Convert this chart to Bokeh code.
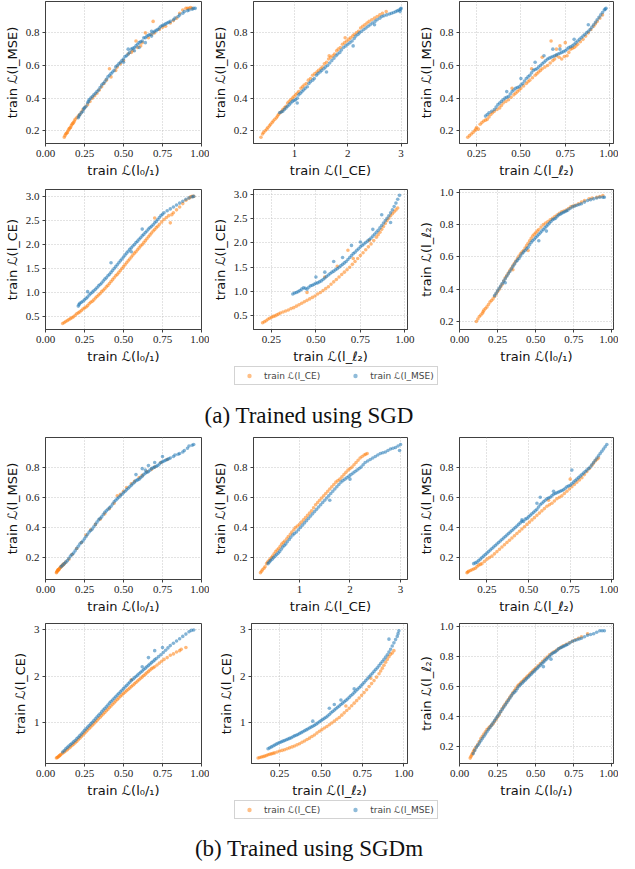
from bokeh.plotting import figure
from bokeh.layouts import column, row
from bokeh.models import Range1d, FixedTicker, PrintfTickFormatter, Legend, LegendItem, Div
from bokeh.embed import file_html
from bokeh.resources import INLINE

ORANGE = "#ff7f0e"
BLUE = "#1f77b4"

LBL_01 = "train ℒ(l₀/₁)"
LBL_CE = "train ℒ(l_CE)"
LBL_MSE = "train ℒ(l_MSE)"
LBL_L2 = "train ℒ(l_ℓ₂)"

ticks_01 = [0.0, 0.25, 0.5, 0.75, 1.0]
ticks_l2 = [0.25, 0.5, 0.75, 1.0]
ticks_ce_x = [1, 2, 3]
ticks_mse = [0.2, 0.4, 0.6, 0.8]
ticks_ce_y_sgd = [0.5, 1.0, 1.5, 2.0, 2.5, 3.0]
ticks_ce_y_sgdm = [1, 2, 3]
ticks_l2_y = [0.2, 0.4, 0.6, 0.8, 1.0]

# ---------------- (a) SGD ----------------
sgd_01_mse_ce = [(0.12,0.16),(0.13,0.18),(0.14,0.19),(0.15,0.21),(0.16,0.22),(0.17,0.24),(0.18,0.25),(0.19,0.27),(0.20,0.28),(0.22,0.30),(0.24,0.33),(0.27,0.36),(0.30,0.40),(0.33,0.43),(0.36,0.47),(0.39,0.51),(0.41,0.58),(0.42,0.53),(0.45,0.57),(0.48,0.61),(0.50,0.63),(0.53,0.67),(0.56,0.69),(0.58,0.75),(0.59,0.71),(0.62,0.74),(0.64,0.80),(0.66,0.77),(0.69,0.87),(0.70,0.80),(0.73,0.82),(0.77,0.84),(0.80,0.86),(0.84,0.89),(0.88,0.94),(0.90,0.95),(0.92,0.95),(0.94,0.95),
                 (0.125,0.17),(0.135,0.185),(0.145,0.20),(0.155,0.215),(0.165,0.23),(0.175,0.245),(0.185,0.26),(0.21,0.29),(0.23,0.315),(0.255,0.345),(0.285,0.38),(0.315,0.415),(0.345,0.45),(0.375,0.49),(0.46,0.59),(0.55,0.68),(0.61,0.72),(0.68,0.79),(0.75,0.835),(0.82,0.875),(0.86,0.92),(0.91,0.95),(0.93,0.955)]
sgd_01_mse_mse = [(0.21,0.28),(0.22,0.30),(0.24,0.32),(0.25,0.34),(0.27,0.37),(0.28,0.39),(0.30,0.41),(0.32,0.43),(0.34,0.45),(0.36,0.48),(0.38,0.50),(0.40,0.53),(0.42,0.55),(0.44,0.57),(0.45,0.59),(0.47,0.61),(0.49,0.63),(0.50,0.64),(0.52,0.66),(0.54,0.68),(0.55,0.70),(0.57,0.71),(0.58,0.72),(0.60,0.74),(0.62,0.75),(0.63,0.77),(0.65,0.78),(0.67,0.79),(0.68,0.81),(0.70,0.81),(0.72,0.82),(0.74,0.84),(0.76,0.85),(0.78,0.86),(0.80,0.87),(0.83,0.89),(0.86,0.91),(0.89,0.93),(0.92,0.94),(0.95,0.95),(0.96,0.95),(0.60,0.71),(0.64,0.74),(0.53,0.70),
                  (0.215,0.29),(0.23,0.31),(0.245,0.335),(0.26,0.35),(0.275,0.38),(0.29,0.40),(0.31,0.42),(0.33,0.44),(0.35,0.465),(0.37,0.49),(0.39,0.515),(0.41,0.54),(0.43,0.56),(0.46,0.60),(0.48,0.62),(0.51,0.655),(0.53,0.67),(0.56,0.705),(0.59,0.73),(0.61,0.745),(0.64,0.77),(0.66,0.785),(0.69,0.80),(0.71,0.815),(0.73,0.83),(0.75,0.845),(0.77,0.855),(0.79,0.865),(0.82,0.88),(0.85,0.90),(0.88,0.92),(0.91,0.935),(0.94,0.945),(0.50,0.62),(0.57,0.69),(0.68,0.78)]

sgd_ce_mse_ce = [(0.37,0.16),(0.42,0.19),(0.48,0.21),(0.53,0.23),(0.58,0.25),(0.63,0.27),(0.68,0.29),(0.73,0.31),(0.78,0.33),(0.84,0.35),(0.90,0.38),(0.96,0.40),(1.02,0.42),(1.08,0.44),(1.15,0.47),(1.22,0.49),(1.30,0.52),(1.38,0.55),(1.45,0.57),(1.52,0.59),(1.60,0.62),(1.68,0.65),(1.75,0.67),(1.82,0.70),(1.90,0.73),(1.98,0.75),(2.05,0.77),(2.12,0.79),(2.20,0.81),(2.28,0.84),(2.36,0.86),(2.45,0.88),(2.55,0.90),(2.65,0.92),(2.72,0.93),(1.65,0.66),(1.95,0.77),
                 (0.40,0.18),(0.45,0.20),(0.50,0.22),(0.55,0.24),(0.60,0.26),(0.66,0.28),(0.70,0.30),(0.76,0.32),(0.81,0.34),(0.87,0.37),(0.93,0.39),(0.99,0.41),(1.05,0.43),(1.12,0.46),(1.18,0.48),(1.26,0.51),(1.34,0.54),(1.42,0.56),(1.49,0.58),(1.56,0.61),(1.64,0.64),(1.72,0.66),(1.79,0.69),(1.86,0.71),(1.94,0.74),(2.02,0.76),(2.09,0.78),(2.16,0.80),(2.24,0.83),(2.32,0.85),(2.40,0.87),(2.50,0.89),(2.60,0.91)]
sgd_ce_mse_mse = [(0.72,0.31),(0.78,0.32),(0.84,0.34),(0.90,0.36),(0.96,0.38),(1.02,0.39),(1.08,0.42),(1.14,0.44),(1.20,0.46),(1.27,0.49),(1.34,0.51),(1.41,0.54),(1.48,0.56),(1.55,0.58),(1.62,0.60),(1.70,0.63),(1.78,0.66),(1.85,0.68),(1.92,0.71),(2.00,0.73),(2.08,0.75),(2.15,0.78),(2.22,0.80),(2.30,0.82),(2.38,0.84),(2.46,0.86),(2.55,0.88),(2.64,0.90),(2.73,0.91),(2.82,0.92),(2.90,0.93),(2.96,0.94),(3.00,0.95),(2.98,0.93),(1.05,0.37),(1.60,0.56),(2.10,0.72),(2.50,0.85),
                  (0.75,0.315),(0.81,0.33),(0.87,0.35),(0.93,0.37),(0.99,0.385),(1.05,0.40),(1.11,0.43),(1.17,0.45),(1.24,0.47),(1.30,0.50),(1.37,0.52),(1.44,0.55),(1.51,0.57),(1.58,0.59),(1.66,0.615),(1.74,0.645),(1.81,0.67),(1.88,0.695),(1.96,0.72),(2.04,0.74),(2.12,0.765),(2.19,0.79),(2.26,0.81),(2.34,0.83),(2.42,0.85),(2.51,0.87),(2.60,0.89),(2.68,0.905),(2.78,0.915),(2.86,0.925),(2.93,0.935),(2.99,0.945)]

sgd_l2_mse_ce = [(0.20,0.16),(0.22,0.18),(0.24,0.20),(0.25,0.22),(0.26,0.21),(0.27,0.24),(0.29,0.26),(0.31,0.27),(0.33,0.30),(0.35,0.32),(0.38,0.34),(0.40,0.37),(0.43,0.39),(0.46,0.42),(0.48,0.44),(0.50,0.46),(0.53,0.49),(0.55,0.51),(0.58,0.54),(0.60,0.56),(0.62,0.58),(0.65,0.60),(0.68,0.63),(0.70,0.66),(0.72,0.72),(0.73,0.64),(0.76,0.66),(0.78,0.70),(0.80,0.71),(0.82,0.73),(0.85,0.76),(0.88,0.80),(0.91,0.84),(0.93,0.87),(0.96,0.91),(0.62,0.65),(0.67,0.75),(0.45,0.46),
                 (0.21,0.17),(0.23,0.19),(0.245,0.21),(0.28,0.25),(0.30,0.265),(0.32,0.285),(0.34,0.31),(0.365,0.33),(0.39,0.355),(0.415,0.38),(0.445,0.405),(0.47,0.43),(0.49,0.45),(0.515,0.475),(0.54,0.50),(0.565,0.525),(0.59,0.55),(0.61,0.57),(0.635,0.59),(0.665,0.615),(0.69,0.64),(0.715,0.65),(0.745,0.655),(0.77,0.68),(0.79,0.705),(0.81,0.72),(0.835,0.745),(0.865,0.78),(0.895,0.82),(0.92,0.855),(0.945,0.89),(0.56,0.58),(0.70,0.70),(0.75,0.74)]
sgd_l2_mse_mse = [(0.30,0.29),(0.32,0.31),(0.35,0.33),(0.37,0.36),(0.39,0.38),(0.41,0.40),(0.43,0.41),(0.45,0.44),(0.47,0.46),(0.49,0.47),(0.51,0.49),(0.53,0.52),(0.55,0.54),(0.57,0.57),(0.59,0.58),(0.61,0.60),(0.63,0.62),(0.65,0.64),(0.67,0.65),(0.69,0.66),(0.71,0.67),(0.73,0.68),(0.75,0.69),(0.77,0.71),(0.79,0.72),(0.81,0.74),(0.83,0.76),(0.85,0.78),(0.87,0.80),(0.89,0.82),(0.91,0.85),(0.93,0.88),(0.95,0.91),(0.97,0.94),(0.98,0.95),(0.58,0.62),(0.68,0.70),(0.80,0.76),(0.88,0.85),(0.42,0.44),
                  (0.31,0.30),(0.335,0.32),(0.36,0.345),(0.38,0.37),(0.40,0.39),(0.42,0.405),(0.44,0.425),(0.46,0.45),(0.48,0.465),(0.50,0.48),(0.52,0.505),(0.54,0.53),(0.56,0.555),(0.58,0.575),(0.60,0.59),(0.62,0.61),(0.64,0.63),(0.66,0.645),(0.68,0.655),(0.70,0.665),(0.72,0.675),(0.74,0.685),(0.76,0.70),(0.78,0.715),(0.80,0.73),(0.82,0.75),(0.84,0.77),(0.86,0.79),(0.88,0.81),(0.90,0.835),(0.92,0.865),(0.94,0.895),(0.96,0.925),(0.975,0.945),(0.50,0.52),(0.63,0.66),(0.72,0.70)]

sgd_01_ce_ce = [(0.11,0.36),(0.13,0.40),(0.15,0.44),(0.17,0.48),(0.19,0.53),(0.21,0.58),(0.23,0.63),(0.25,0.68),(0.27,0.73),(0.29,0.80),(0.31,0.85),(0.33,0.92),(0.35,0.98),(0.37,1.05),(0.39,1.12),(0.41,1.19),(0.43,1.27),(0.45,1.35),(0.47,1.42),(0.49,1.50),(0.51,1.58),(0.53,1.66),(0.55,1.74),(0.57,1.82),(0.59,1.89),(0.61,1.97),(0.63,2.04),(0.65,2.12),(0.67,2.20),(0.69,2.28),(0.71,2.35),(0.73,2.42),(0.76,2.52),(0.79,2.60),(0.82,2.66),(0.86,2.78),(0.90,2.92),(0.93,2.99),(0.95,3.00),(0.80,2.45),(0.70,2.55),
                (0.12,0.38),(0.14,0.42),(0.16,0.46),(0.18,0.50),(0.20,0.56),(0.22,0.60),(0.24,0.66),(0.26,0.70),(0.28,0.77),(0.30,0.82),(0.32,0.89),(0.34,0.95),(0.36,1.02),(0.38,1.08),(0.40,1.15),(0.42,1.23),(0.44,1.31),(0.46,1.38),(0.48,1.46),(0.50,1.54),(0.52,1.62),(0.54,1.70),(0.56,1.78),(0.58,1.85),(0.60,1.93),(0.62,2.00),(0.64,2.08),(0.66,2.16),(0.68,2.24),(0.70,2.31),(0.72,2.38),(0.745,2.47),(0.775,2.56),(0.81,2.62),(0.84,2.72),(0.88,2.85),(0.92,2.96),(0.94,3.00)]
sgd_01_ce_mse = [(0.21,0.72),(0.22,0.78),(0.24,0.82),(0.26,0.88),(0.28,0.95),(0.30,1.01),(0.32,1.07),(0.34,1.14),(0.36,1.20),(0.38,1.28),(0.40,1.35),(0.42,1.42),(0.44,1.50),(0.46,1.58),(0.48,1.66),(0.50,1.74),(0.52,1.82),(0.54,1.90),(0.56,1.97),(0.58,2.04),(0.60,2.11),(0.62,2.18),(0.64,2.25),(0.66,2.32),(0.68,2.38),(0.70,2.45),(0.72,2.52),(0.74,2.60),(0.76,2.66),(0.80,2.74),(0.84,2.82),(0.88,2.90),(0.92,2.97),(0.95,3.00),(0.27,1.02),(0.42,1.62),(0.62,2.32),(0.55,1.85),
                 (0.215,0.75),(0.23,0.80),(0.25,0.85),(0.27,0.91),(0.29,0.98),(0.31,1.04),(0.33,1.10),(0.35,1.17),(0.37,1.24),(0.39,1.31),(0.41,1.38),(0.43,1.46),(0.45,1.54),(0.47,1.62),(0.49,1.70),(0.51,1.78),(0.53,1.86),(0.55,1.93),(0.57,2.00),(0.59,2.07),(0.61,2.14),(0.63,2.21),(0.65,2.28),(0.67,2.35),(0.69,2.41),(0.71,2.48),(0.73,2.56),(0.75,2.63),(0.78,2.70),(0.82,2.78),(0.86,2.86),(0.90,2.94),(0.94,2.99)]

sgd_l2_ce_ce = [(0.20,0.36),(0.22,0.40),(0.24,0.45),(0.26,0.49),(0.28,0.52),(0.30,0.56),(0.33,0.60),(0.36,0.65),(0.39,0.70),(0.42,0.76),(0.45,0.82),(0.48,0.88),(0.51,0.95),(0.54,1.02),(0.57,1.10),(0.60,1.20),(0.63,1.30),(0.66,1.40),(0.69,1.50),(0.72,1.62),(0.75,1.74),(0.78,1.86),(0.81,1.98),(0.84,2.12),(0.86,2.22),(0.88,2.34),(0.90,2.46),(0.92,2.56),(0.94,2.64),(0.96,2.72),(0.55,1.30),(0.62,1.52),(0.68,1.85),(0.71,1.68),(0.80,2.05),(0.45,0.98),
                (0.21,0.38),(0.23,0.43),(0.25,0.47),(0.27,0.50),(0.29,0.54),(0.315,0.58),(0.345,0.62),(0.375,0.67),(0.405,0.73),(0.435,0.79),(0.465,0.85),(0.495,0.91),(0.525,0.98),(0.555,1.06),(0.585,1.15),(0.615,1.25),(0.645,1.35),(0.675,1.45),(0.705,1.56),(0.735,1.68),(0.765,1.80),(0.795,1.92),(0.825,2.05),(0.85,2.17),(0.87,2.28),(0.89,2.40),(0.91,2.51),(0.93,2.60),(0.95,2.68)]
sgd_l2_ce_mse = [(0.37,0.95),(0.39,0.98),(0.41,1.02),(0.43,1.08),(0.45,1.05),(0.47,1.12),(0.49,1.15),(0.51,1.18),(0.53,1.22),(0.55,1.28),(0.57,1.34),(0.59,1.40),(0.61,1.45),(0.63,1.50),(0.65,1.56),(0.67,1.62),(0.69,1.70),(0.71,1.78),(0.73,1.85),(0.75,1.92),(0.77,1.98),(0.79,2.04),(0.81,2.10),(0.83,2.18),(0.85,2.26),(0.87,2.36),(0.89,2.46),(0.91,2.56),(0.93,2.68),(0.95,2.82),(0.97,2.98),(0.60,1.62),(0.70,1.95),(0.87,2.58),(0.92,2.42),(0.50,1.30),(0.82,2.28),
                 (0.38,0.97),(0.40,1.00),(0.42,1.05),(0.44,1.07),(0.46,1.09),(0.48,1.13),(0.50,1.17),(0.52,1.20),(0.54,1.25),(0.56,1.31),(0.58,1.37),(0.60,1.42),(0.62,1.47),(0.64,1.53),(0.66,1.59),(0.68,1.66),(0.70,1.74),(0.72,1.81),(0.74,1.88),(0.76,1.95),(0.78,2.01),(0.80,2.07),(0.82,2.14),(0.84,2.22),(0.86,2.31),(0.88,2.41),(0.90,2.51),(0.92,2.62),(0.94,2.75),(0.96,2.90),(0.65,1.70),(0.75,2.02),(0.55,1.40)]

sgd_01_l2_ce = [(0.11,0.20),(0.13,0.23),(0.15,0.25),(0.16,0.27),(0.18,0.29),(0.20,0.32),(0.22,0.34),(0.24,0.37),(0.26,0.40),(0.28,0.43),(0.30,0.47),(0.32,0.50),(0.34,0.53),(0.36,0.56),(0.38,0.59),(0.40,0.62),(0.42,0.64),(0.44,0.67),(0.46,0.70),(0.48,0.73),(0.50,0.75),(0.52,0.77),(0.55,0.80),(0.58,0.82),(0.61,0.84),(0.64,0.86),(0.67,0.88),(0.70,0.89),(0.73,0.91),(0.76,0.92),(0.80,0.94),(0.85,0.96),(0.90,0.97),(0.94,0.98),(0.35,0.52),(0.45,0.64),
                (0.12,0.215),(0.14,0.24),(0.155,0.26),(0.17,0.28),(0.19,0.305),(0.21,0.33),(0.23,0.355),(0.25,0.385),(0.27,0.415),(0.29,0.45),(0.31,0.485),(0.33,0.515),(0.35,0.545),(0.37,0.575),(0.39,0.605),(0.41,0.63),(0.43,0.655),(0.45,0.685),(0.47,0.715),(0.49,0.74),(0.51,0.76),(0.535,0.785),(0.565,0.81),(0.595,0.83),(0.625,0.85),(0.655,0.87),(0.685,0.885),(0.715,0.90),(0.745,0.915),(0.78,0.93),(0.82,0.95),(0.87,0.965),(0.92,0.975)]
sgd_01_l2_mse = [(0.23,0.36),(0.25,0.39),(0.27,0.42),(0.29,0.45),(0.31,0.48),(0.33,0.51),(0.35,0.54),(0.37,0.57),(0.39,0.59),(0.41,0.62),(0.43,0.64),(0.45,0.66),(0.47,0.69),(0.49,0.71),(0.51,0.73),(0.53,0.75),(0.55,0.77),(0.57,0.79),(0.59,0.81),(0.61,0.83),(0.63,0.84),(0.65,0.86),(0.67,0.87),(0.69,0.88),(0.71,0.89),(0.74,0.91),(0.77,0.92),(0.80,0.93),(0.84,0.95),(0.88,0.96),(0.92,0.97),(0.95,0.97),(0.52,0.70),(0.57,0.76),(0.30,0.44),
                 (0.24,0.375),(0.26,0.405),(0.28,0.435),(0.30,0.465),(0.32,0.495),(0.34,0.525),(0.36,0.555),(0.38,0.58),(0.40,0.605),(0.42,0.63),(0.44,0.65),(0.46,0.675),(0.48,0.70),(0.50,0.72),(0.52,0.74),(0.54,0.76),(0.56,0.78),(0.58,0.80),(0.60,0.82),(0.62,0.835),(0.64,0.85),(0.66,0.865),(0.68,0.875),(0.70,0.885),(0.725,0.90),(0.755,0.915),(0.785,0.925),(0.82,0.94),(0.86,0.955),(0.90,0.965),(0.94,0.97)]

# ---------------- (b) SGDm ----------------
sgdm_01_mse_ce = [(0.07,0.10),(0.075,0.11),(0.08,0.12),(0.085,0.12),(0.09,0.13),(0.10,0.14),(0.11,0.15),(0.12,0.16),(0.15,0.19),(0.20,0.26),(0.26,0.35),(0.32,0.42),(0.38,0.49),(0.44,0.56),(0.46,0.61),(0.50,0.64),(0.55,0.69),(0.60,0.73),(0.65,0.77),(0.70,0.80),(0.74,0.83),(0.78,0.85),
                  (0.072,0.105),(0.078,0.115),(0.082,0.118),(0.088,0.125),(0.095,0.135),(0.105,0.145),(0.115,0.155),(0.13,0.17),(0.17,0.22),(0.23,0.30),(0.29,0.385),(0.35,0.455),(0.41,0.525),(0.48,0.62),(0.52,0.665),(0.57,0.705),(0.62,0.745),(0.68,0.785)]
sgdm_01_mse_mse = [(0.10,0.14),(0.12,0.16),(0.14,0.18),(0.16,0.21),(0.18,0.23),(0.20,0.26),(0.22,0.29),(0.24,0.31),(0.26,0.34),(0.28,0.37),(0.30,0.39),(0.32,0.42),(0.34,0.45),(0.36,0.47),(0.38,0.50),(0.40,0.52),(0.42,0.54),(0.44,0.57),(0.46,0.59),(0.48,0.61),(0.50,0.63),(0.52,0.65),(0.54,0.67),(0.56,0.69),(0.58,0.71),(0.60,0.72),(0.62,0.74),(0.64,0.76),(0.66,0.77),(0.68,0.79),(0.70,0.80),(0.72,0.81),(0.74,0.83),(0.76,0.84),(0.78,0.85),(0.80,0.86),(0.83,0.88),(0.86,0.89),(0.89,0.91),(0.92,0.94),(0.95,0.95),(0.62,0.79),(0.66,0.81),(0.75,0.87),(0.58,0.75),
                   (0.11,0.15),(0.13,0.17),(0.15,0.195),(0.17,0.22),(0.19,0.245),(0.21,0.275),(0.23,0.30),(0.25,0.325),(0.27,0.355),(0.29,0.38),(0.31,0.405),(0.33,0.435),(0.35,0.46),(0.37,0.485),(0.39,0.51),(0.41,0.53),(0.43,0.555),(0.45,0.58),(0.47,0.60),(0.49,0.62),(0.51,0.64),(0.53,0.66),(0.55,0.68),(0.57,0.70),(0.59,0.715),(0.61,0.73),(0.63,0.75),(0.65,0.765),(0.67,0.78),(0.69,0.795),(0.71,0.805),(0.73,0.82),(0.75,0.835),(0.77,0.845),(0.79,0.855),(0.82,0.87),(0.85,0.885),(0.88,0.90),(0.91,0.925),(0.94,0.945),(0.64,0.78),(0.70,0.83)]

sgdm_ce_mse_ce = [(0.23,0.10),(0.27,0.12),(0.32,0.14),(0.37,0.17),(0.42,0.19),(0.47,0.21),(0.53,0.24),(0.59,0.26),(0.65,0.29),(0.71,0.31),(0.78,0.34),(0.85,0.37),(0.92,0.40),(1.00,0.42),(1.08,0.45),(1.16,0.48),(1.24,0.51),(1.32,0.55),(1.40,0.58),(1.48,0.61),(1.56,0.64),(1.64,0.67),(1.72,0.70),(1.80,0.72),(1.88,0.75),(1.96,0.78),(2.04,0.80),(2.12,0.83),(2.20,0.86),(2.28,0.88),(2.34,0.89),
                  (0.25,0.11),(0.30,0.13),(0.35,0.16),(0.40,0.18),(0.45,0.20),(0.50,0.225),(0.56,0.25),(0.62,0.275),(0.68,0.30),(0.75,0.325),(0.82,0.355),(0.89,0.385),(0.96,0.41),(1.04,0.435),(1.12,0.465),(1.20,0.495),(1.28,0.53),(1.36,0.565),(1.44,0.595),(1.52,0.625),(1.60,0.655),(1.68,0.685),(1.76,0.71),(1.84,0.735),(1.92,0.765),(2.00,0.79),(2.08,0.815),(2.16,0.845),(2.24,0.87),(2.31,0.885)]
sgdm_ce_mse_mse = [(0.38,0.16),(0.43,0.18),(0.49,0.20),(0.55,0.22),(0.61,0.24),(0.67,0.27),(0.73,0.29),(0.80,0.32),(0.87,0.35),(0.94,0.37),(1.02,0.40),(1.10,0.43),(1.18,0.46),(1.26,0.49),(1.34,0.52),(1.42,0.55),(1.50,0.58),(1.58,0.61),(1.66,0.64),(1.74,0.67),(1.82,0.70),(1.90,0.72),(1.98,0.74),(2.06,0.76),(2.14,0.78),(2.22,0.80),(2.30,0.83),(2.40,0.85),(2.50,0.87),(2.60,0.89),(2.70,0.90),(2.80,0.92),(2.90,0.93),(3.00,0.95),(2.98,0.91),(2.00,0.72),(1.60,0.58),
                   (0.40,0.17),(0.46,0.19),(0.52,0.21),(0.58,0.23),(0.64,0.255),(0.70,0.28),(0.76,0.305),(0.83,0.335),(0.90,0.36),(0.98,0.385),(1.06,0.415),(1.14,0.445),(1.22,0.475),(1.30,0.505),(1.38,0.535),(1.46,0.565),(1.54,0.595),(1.62,0.625),(1.70,0.655),(1.78,0.685),(1.86,0.71),(1.94,0.73),(2.02,0.75),(2.10,0.77),(2.18,0.79),(2.26,0.815),(2.35,0.84),(2.45,0.86),(2.55,0.88),(2.65,0.895),(2.75,0.91),(2.85,0.925),(2.95,0.94)]

sgdm_l2_mse_ce = [(0.13,0.10),(0.14,0.11),(0.16,0.12),(0.18,0.13),(0.20,0.15),(0.22,0.16),(0.25,0.19),(0.28,0.21),(0.31,0.24),(0.34,0.27),(0.37,0.30),(0.40,0.33),(0.43,0.36),(0.46,0.39),(0.49,0.42),(0.52,0.45),(0.55,0.48),(0.58,0.51),(0.61,0.54),(0.64,0.56),(0.67,0.59),(0.70,0.61),(0.73,0.64),(0.76,0.67),(0.79,0.70),(0.82,0.73),(0.85,0.77),(0.88,0.81),(0.90,0.84),(0.92,0.86),(0.62,0.58),(0.75,0.72),
                  (0.135,0.105),(0.15,0.115),(0.17,0.125),(0.19,0.14),(0.21,0.155),(0.235,0.175),(0.265,0.20),(0.295,0.225),(0.325,0.255),(0.355,0.285),(0.385,0.315),(0.415,0.345),(0.445,0.375),(0.475,0.405),(0.505,0.435),(0.535,0.465),(0.565,0.495),(0.595,0.525),(0.625,0.55),(0.655,0.575),(0.685,0.60),(0.715,0.625),(0.745,0.655),(0.775,0.685),(0.805,0.715),(0.835,0.75),(0.865,0.79),(0.89,0.825),(0.91,0.85)]
sgdm_l2_mse_mse = [(0.17,0.16),(0.19,0.17),(0.21,0.19),(0.23,0.21),(0.25,0.23),(0.27,0.25),(0.29,0.27),(0.31,0.29),(0.33,0.31),(0.35,0.33),(0.37,0.35),(0.39,0.37),(0.41,0.39),(0.43,0.41),(0.45,0.43),(0.47,0.44),(0.49,0.46),(0.51,0.48),(0.53,0.50),(0.55,0.52),(0.57,0.55),(0.59,0.57),(0.61,0.59),(0.63,0.60),(0.65,0.62),(0.67,0.63),(0.69,0.64),(0.71,0.65),(0.73,0.67),(0.75,0.68),(0.77,0.70),(0.79,0.72),(0.81,0.74),(0.83,0.76),(0.85,0.78),(0.87,0.80),(0.89,0.83),(0.91,0.86),(0.93,0.89),(0.95,0.92),(0.97,0.95),(0.76,0.78),(0.57,0.60),(0.46,0.45),
                   (0.18,0.165),(0.20,0.18),(0.22,0.20),(0.24,0.22),(0.26,0.24),(0.28,0.26),(0.30,0.28),(0.32,0.30),(0.34,0.32),(0.36,0.34),(0.38,0.36),(0.40,0.38),(0.42,0.40),(0.44,0.42),(0.46,0.44),(0.48,0.455),(0.50,0.47),(0.52,0.49),(0.54,0.51),(0.56,0.535),(0.58,0.56),(0.60,0.58),(0.62,0.595),(0.64,0.61),(0.66,0.625),(0.68,0.635),(0.70,0.645),(0.72,0.66),(0.74,0.675),(0.76,0.69),(0.78,0.71),(0.80,0.73),(0.82,0.75),(0.84,0.77),(0.86,0.79),(0.88,0.815),(0.90,0.845),(0.92,0.875),(0.94,0.905),(0.96,0.935),(0.55,0.56),(0.65,0.64)]

sgdm_01_ce_ce = [(0.07,0.22),(0.08,0.24),(0.09,0.27),(0.10,0.30),(0.12,0.35),(0.14,0.40),(0.16,0.46),(0.18,0.52),(0.20,0.58),(0.22,0.65),(0.24,0.72),(0.26,0.79),(0.28,0.86),(0.30,0.93),(0.32,1.00),(0.34,1.07),(0.36,1.14),(0.38,1.21),(0.40,1.28),(0.42,1.35),(0.44,1.42),(0.46,1.49),(0.48,1.56),(0.50,1.62),(0.52,1.68),(0.54,1.74),(0.56,1.80),(0.58,1.86),(0.60,1.92),(0.62,1.98),(0.64,2.04),(0.66,2.10),(0.68,2.16),(0.70,2.20),(0.73,2.28),(0.76,2.36),(0.80,2.45),(0.84,2.52),(0.87,2.58),(0.55,1.92),
                 (0.075,0.23),(0.085,0.255),(0.095,0.285),(0.11,0.325),(0.13,0.375),(0.15,0.43),(0.17,0.49),(0.19,0.55),(0.21,0.615),(0.23,0.685),(0.25,0.755),(0.27,0.825),(0.29,0.895),(0.31,0.965),(0.33,1.035),(0.35,1.105),(0.37,1.175),(0.39,1.245),(0.41,1.315),(0.43,1.385),(0.45,1.455),(0.47,1.525),(0.49,1.59),(0.51,1.65),(0.53,1.71),(0.55,1.77),(0.57,1.83),(0.59,1.89),(0.61,1.95),(0.63,2.01),(0.65,2.07),(0.67,2.13),(0.69,2.18),(0.715,2.24),(0.745,2.32),(0.78,2.40),(0.82,2.48),(0.86,2.55),(0.90,2.62)]
sgdm_01_ce_mse = [(0.11,0.35),(0.13,0.42),(0.15,0.48),(0.17,0.54),(0.19,0.60),(0.21,0.67),(0.23,0.74),(0.25,0.82),(0.27,0.89),(0.29,0.96),(0.31,1.03),(0.33,1.11),(0.35,1.18),(0.37,1.26),(0.39,1.33),(0.41,1.41),(0.43,1.48),(0.45,1.55),(0.47,1.62),(0.49,1.69),(0.51,1.76),(0.53,1.83),(0.55,1.90),(0.57,1.96),(0.59,2.02),(0.61,2.08),(0.63,2.14),(0.65,2.20),(0.67,2.26),(0.69,2.32),(0.71,2.38),(0.74,2.46),(0.77,2.56),(0.80,2.66),(0.84,2.76),(0.88,2.86),(0.92,2.96),(0.95,3.00),(0.70,2.55),(0.62,2.20),
                  (0.12,0.38),(0.14,0.45),(0.16,0.51),(0.18,0.57),(0.20,0.635),(0.22,0.705),(0.24,0.78),(0.26,0.855),(0.28,0.925),(0.30,0.995),(0.32,1.07),(0.34,1.145),(0.36,1.22),(0.38,1.295),(0.40,1.37),(0.42,1.445),(0.44,1.515),(0.46,1.585),(0.48,1.655),(0.50,1.725),(0.52,1.795),(0.54,1.865),(0.56,1.93),(0.58,1.99),(0.60,2.05),(0.62,2.11),(0.64,2.17),(0.66,2.23),(0.68,2.29),(0.70,2.35),(0.725,2.42),(0.755,2.51),(0.785,2.61),(0.82,2.71),(0.86,2.81),(0.90,2.91),(0.935,2.99),(0.66,2.40),(0.75,2.62)]

sgdm_l2_ce_ce = [(0.12,0.22),(0.14,0.24),(0.16,0.26),(0.18,0.29),(0.20,0.31),(0.22,0.33),(0.25,0.37),(0.28,0.40),(0.31,0.44),(0.34,0.48),(0.37,0.53),(0.40,0.59),(0.43,0.65),(0.46,0.72),(0.49,0.80),(0.52,0.87),(0.55,0.94),(0.58,1.02),(0.61,1.10),(0.64,1.20),(0.67,1.30),(0.70,1.41),(0.73,1.52),(0.76,1.64),(0.79,1.77),(0.82,1.90),(0.85,2.05),(0.87,2.17),(0.89,2.30),(0.91,2.42),(0.93,2.50),(0.65,1.35),(0.80,1.95),
                 (0.13,0.23),(0.15,0.25),(0.17,0.275),(0.19,0.30),(0.21,0.32),(0.235,0.35),(0.265,0.385),(0.295,0.42),(0.325,0.46),(0.355,0.505),(0.385,0.56),(0.415,0.62),(0.445,0.685),(0.475,0.76),(0.505,0.835),(0.535,0.905),(0.565,0.98),(0.595,1.06),(0.625,1.15),(0.655,1.25),(0.685,1.355),(0.715,1.465),(0.745,1.58),(0.775,1.70),(0.805,1.835),(0.835,1.975),(0.86,2.11),(0.88,2.235),(0.90,2.36),(0.92,2.47),(0.94,2.55)]
sgdm_l2_ce_mse = [(0.18,0.42),(0.20,0.46),(0.22,0.50),(0.24,0.54),(0.26,0.57),(0.28,0.60),(0.30,0.63),(0.32,0.66),(0.34,0.70),(0.36,0.73),(0.38,0.77),(0.40,0.81),(0.42,0.85),(0.44,0.89),(0.46,0.93),(0.48,0.98),(0.50,1.03),(0.52,1.08),(0.54,1.13),(0.56,1.20),(0.58,1.26),(0.60,1.32),(0.62,1.38),(0.64,1.44),(0.66,1.50),(0.68,1.57),(0.70,1.64),(0.72,1.71),(0.74,1.78),(0.76,1.86),(0.78,1.94),(0.80,2.02),(0.82,2.10),(0.84,2.18),(0.86,2.27),(0.88,2.36),(0.90,2.46),(0.92,2.58),(0.94,2.72),(0.96,2.86),(0.97,2.98),(0.55,1.30),(0.62,1.48),(0.70,1.72),(0.91,2.80),
                  (0.19,0.44),(0.21,0.48),(0.23,0.52),(0.25,0.555),(0.27,0.585),(0.29,0.615),(0.31,0.645),(0.33,0.68),(0.35,0.715),(0.37,0.75),(0.39,0.79),(0.41,0.83),(0.43,0.87),(0.45,0.91),(0.47,0.955),(0.49,1.005),(0.51,1.055),(0.53,1.105),(0.55,1.165),(0.57,1.23),(0.59,1.29),(0.61,1.35),(0.63,1.41),(0.65,1.47),(0.67,1.535),(0.69,1.605),(0.71,1.675),(0.73,1.745),(0.75,1.82),(0.77,1.90),(0.79,1.98),(0.81,2.06),(0.83,2.14),(0.85,2.225),(0.87,2.315),(0.89,2.41),(0.91,2.52),(0.93,2.65),(0.95,2.79),(0.965,2.92),(0.45,1.02),(0.58,1.38)]

sgdm_01_l2_ce = [(0.07,0.12),(0.08,0.14),(0.09,0.16),(0.10,0.18),(0.12,0.21),(0.14,0.25),(0.16,0.28),(0.18,0.31),(0.20,0.33),(0.22,0.35),(0.24,0.38),(0.26,0.41),(0.28,0.45),(0.30,0.48),(0.32,0.51),(0.34,0.54),(0.36,0.57),(0.38,0.60),(0.40,0.62),(0.42,0.64),(0.44,0.66),(0.46,0.68),(0.48,0.70),(0.50,0.72),(0.53,0.75),(0.56,0.78),(0.59,0.81),(0.62,0.83),(0.65,0.85),(0.68,0.87),(0.72,0.89),(0.76,0.91),(0.80,0.93),(0.84,0.95),
                 (0.075,0.13),(0.085,0.15),(0.095,0.17),(0.11,0.195),(0.13,0.23),(0.15,0.265),(0.17,0.295),(0.19,0.32),(0.21,0.34),(0.23,0.365),(0.25,0.395),(0.27,0.43),(0.29,0.465),(0.31,0.495),(0.33,0.525),(0.35,0.555),(0.37,0.585),(0.39,0.61),(0.41,0.63),(0.43,0.65),(0.45,0.67),(0.47,0.69),(0.49,0.71),(0.515,0.735),(0.545,0.765),(0.575,0.795),(0.605,0.82),(0.635,0.84),(0.665,0.86),(0.70,0.88),(0.74,0.90),(0.78,0.92)]
sgdm_01_l2_mse = [(0.09,0.15),(0.11,0.19),(0.13,0.22),(0.15,0.25),(0.17,0.28),(0.19,0.31),(0.21,0.34),(0.23,0.37),(0.25,0.40),(0.27,0.43),(0.29,0.46),(0.31,0.49),(0.33,0.52),(0.35,0.55),(0.37,0.57),(0.39,0.60),(0.41,0.62),(0.43,0.64),(0.45,0.66),(0.47,0.68),(0.49,0.70),(0.51,0.72),(0.53,0.74),(0.55,0.76),(0.57,0.78),(0.59,0.80),(0.61,0.82),(0.63,0.83),(0.65,0.85),(0.67,0.86),(0.69,0.87),(0.71,0.88),(0.74,0.90),(0.77,0.91),(0.80,0.92),(0.84,0.94),(0.88,0.95),(0.92,0.97),(0.95,0.97),(0.60,0.78),(0.55,0.73),
                  (0.10,0.17),(0.12,0.205),(0.14,0.235),(0.16,0.265),(0.18,0.295),(0.20,0.325),(0.22,0.355),(0.24,0.385),(0.26,0.415),(0.28,0.445),(0.30,0.475),(0.32,0.505),(0.34,0.535),(0.36,0.56),(0.38,0.585),(0.40,0.61),(0.42,0.63),(0.44,0.65),(0.46,0.67),(0.48,0.69),(0.50,0.71),(0.52,0.73),(0.54,0.75),(0.56,0.77),(0.58,0.79),(0.60,0.81),(0.62,0.825),(0.64,0.84),(0.66,0.855),(0.68,0.865),(0.70,0.875),(0.725,0.89),(0.755,0.905),(0.785,0.915),(0.82,0.93),(0.86,0.945),(0.90,0.96),(0.935,0.97)]

LEFTS = [45, 42, 42]
RIGHTS = [8, 8, 5]


def panel(col, top, bottom, xr, yr, xt, xf, yt, yf, xl, yl, ce, mse):
    w = LEFTS[col] + 156 + RIGHTS[col]
    h = top + 142 + bottom
    p = figure(width=w, height=h, x_range=Range1d(*xr), y_range=Range1d(*yr),
               min_border_left=LEFTS[col], min_border_right=RIGHTS[col],
               min_border_top=top, min_border_bottom=bottom,
               toolbar_location=None, output_backend="svg")
    p.outline_line_color = "#404040"
    p.outline_line_width = 1
    p.xaxis.ticker = FixedTicker(ticks=xt)
    p.yaxis.ticker = FixedTicker(ticks=yt)
    p.xgrid.ticker = FixedTicker(ticks=xt)
    p.ygrid.ticker = FixedTicker(ticks=yt)
    p.xaxis.formatter = PrintfTickFormatter(format=xf)
    p.yaxis.formatter = PrintfTickFormatter(format=yf)
    p.xaxis.axis_label = xl
    p.yaxis.axis_label = yl
    for ax in p.axis:
        ax.axis_line_color = "#404040"
        ax.major_tick_line_color = "#404040"
        ax.major_tick_out = 3
        ax.major_tick_in = 0
        ax.minor_tick_line_color = None
        ax.major_label_text_font = "Liberation Serif"
        ax.major_label_text_font_size = "11px"
        ax.major_label_text_color = "#222222"
        ax.major_label_standoff = 3
        ax.axis_label_text_font = "DejaVu Sans"
        ax.axis_label_text_font_size = "13px"
        ax.axis_label_text_font_style = "normal"
        ax.axis_label_text_color = "#111111"
        ax.axis_label_standoff = 3
    p.grid.grid_line_color = "#b8b8b8"
    p.grid.grid_line_dash = "1 2"
    p.grid.grid_line_width = 0.8
    p.scatter([q[0] for q in ce], [q[1] for q in ce], size=3.6,
              fill_color=ORANGE, fill_alpha=0.55, line_color=None)
    p.scatter([q[0] for q in mse], [q[1] for q in mse], size=3.6,
              fill_color=BLUE, fill_alpha=0.55, line_color=None)
    return p


def legend_fig():
    lf = figure(width=618, height=19, x_range=Range1d(0, 1), y_range=Range1d(0, 1),
                x_axis_location=None, y_axis_location=None, min_border=0,
                toolbar_location=None, output_backend="svg", outline_line_color=None)
    lf.xgrid.visible = False
    lf.ygrid.visible = False
    r1 = lf.scatter([-5], [-5], size=6, fill_color=ORANGE, fill_alpha=0.5, line_color=None)
    r2 = lf.scatter([-5], [-5], size=6, fill_color=BLUE, fill_alpha=0.5, line_color=None)
    leg = Legend(items=[LegendItem(label=LBL_CE, renderers=[r1]),
                        LegendItem(label=LBL_MSE, renderers=[r2])],
                 orientation="horizontal", location=(234, 0), padding=3, margin=0,
                 spacing=24, label_standoff=4, glyph_width=22, glyph_height=11,
                 label_height=11, label_text_font_size="9px", label_text_font="DejaVu Sans",
                 border_line_color="#a8a8a8", border_line_width=1, background_fill_alpha=1)
    lf.add_layout(leg, "center")
    return lf


def caption(txt, h, pad):
    return Div(text=f'<div style="padding-top:{pad}px;line-height:22px;font-size:23px;'
                    f'font-family:\'Liberation Serif\';text-align:center;color:#111;width:618px">{txt}</div>',
               width=618, height=h, margin=0)


rowA1 = row(
    panel(0, 1, 40, (0, 1), (0.122, 0.992), ticks_01, "%.2f", ticks_mse, "%.1f", LBL_01, LBL_MSE, sgd_01_mse_ce, sgd_01_mse_mse),
    panel(1, 1, 40, (0.23, 3.12), (0.122, 0.992), ticks_ce_x, "%d", ticks_mse, "%.1f", LBL_CE, LBL_MSE, sgd_ce_mse_ce, sgd_ce_mse_mse),
    panel(2, 1, 40, (0.1535, 1.022), (0.122, 0.992), ticks_l2, "%.2f", ticks_mse, "%.1f", LBL_L2, LBL_MSE, sgd_l2_mse_ce, sgd_l2_mse_mse),
)
rowA2 = row(
    panel(0, 6, 35, (0, 1), (0.234, 3.143), ticks_01, "%.2f", ticks_ce_y_sgd, "%.1f", LBL_01, LBL_CE, sgd_01_ce_ce, sgd_01_ce_mse),
    panel(1, 6, 35, (0.149, 1.015), (0.22, 3.10), ticks_l2, "%.2f", ticks_ce_y_sgd, "%.1f", LBL_L2, LBL_CE, sgd_l2_ce_ce, sgd_l2_ce_mse),
    panel(2, 6, 35, (0, 1.01), (0.15, 1.018), ticks_01, "%.2f", ticks_l2_y, "%.1f", LBL_01, LBL_L2, sgd_01_l2_ce, sgd_01_l2_mse),
)
rowB1 = row(
    panel(0, 10, 38, (0, 1), (0.055, 0.996), ticks_01, "%.2f", ticks_mse, "%.1f", LBL_01, LBL_MSE, sgdm_01_mse_ce, sgdm_01_mse_mse),
    panel(1, 10, 38, (0.092, 3.137), (0.055, 0.996), ticks_ce_x, "%d", ticks_mse, "%.1f", LBL_CE, LBL_MSE, sgdm_ce_mse_ce, sgdm_ce_mse_mse),
    panel(2, 10, 38, (0.085, 1.01), (0.055, 0.996), ticks_l2, "%.2f", ticks_mse, "%.1f", LBL_L2, LBL_MSE, sgdm_l2_mse_ce, sgdm_l2_mse_mse),
)
rowB2 = row(
    panel(0, 6, 35, (0, 1), (0.10, 3.14), ticks_01, "%.2f", ticks_ce_y_sgdm, "%d", LBL_01, LBL_CE, sgdm_01_ce_ce, sgdm_01_ce_mse),
    panel(1, 6, 35, (0.08, 1.022), (0.10, 3.14), ticks_l2, "%.2f", ticks_ce_y_sgdm, "%d", LBL_L2, LBL_CE, sgdm_l2_ce_ce, sgdm_l2_ce_mse),
    panel(2, 6, 35, (0, 1.01), (0.084, 1.018), ticks_01, "%.2f", ticks_l2_y, "%.1f", LBL_01, LBL_L2, sgdm_01_l2_ce, sgdm_01_l2_mse),
)

layout = column(rowA1, rowA2, legend_fig(), caption("(a) Trained using SGD", 42, 20),
                rowB1, rowB2, legend_fig(), caption("(b) Trained using SGDm", 41, 19))

open("out.html", "w").write(file_html(layout, INLINE))
